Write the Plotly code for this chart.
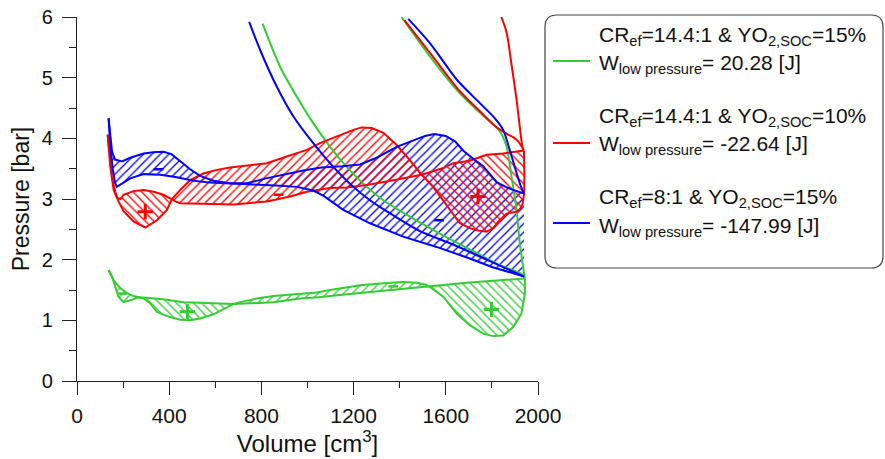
import plotly.graph_objects as go

GREEN = "#33cc33"
RED = "#ff0000"
BLUE = "#0000ff"

# ---------------- data (Volume [cm3], Pressure [bar]) ----------------
# Green: CRef=14.4:1, YO2,SOC=15%
g_comp_v = [805, 881, 953, 1025, 1098, 1170, 1257, 1329, 1444, 1560, 1704, 1834, 1928, 1943]
g_comp_p = [5.89, 5.18, 4.69, 4.25, 3.86, 3.53, 3.20, 2.98, 2.71, 2.46, 2.17, 1.91, 1.77, 1.72]
g_exp_v = [1408, 1531, 1647, 1748, 1834, 1864, 1885, 1907, 1921, 1943]
g_exp_p = [6.00, 5.35, 4.80, 4.42, 4.12, 3.86, 3.37, 2.82, 2.27, 1.69]
g_a_v = [137, 152, 166, 180, 202, 231, 265, 318, 390, 462, 534, 607, 680, 751, 852, 968, 1047,
         1150, 1257, 1400, 1531, 1690, 1943]
g_a_p = [1.83, 1.72, 1.55, 1.39, 1.30, 1.33, 1.38, 1.37, 1.34, 1.30, 1.29, 1.28, 1.27, 1.28, 1.30,
         1.36, 1.38, 1.42, 1.46, 1.51, 1.55, 1.62, 1.69]
g_b_v = [137, 159, 188, 217, 245, 265, 289, 318, 347, 390, 448, 491, 534, 592, 635, 680, 708, 780,
         852, 939, 1040, 1112, 1228, 1329, 1415, 1473, 1510, 1531, 1560, 1589, 1647, 1704, 1762,
         1805, 1849, 1892, 1928, 1943, 1943]
g_b_p = [1.83, 1.66, 1.53, 1.45, 1.40, 1.38, 1.36, 1.28, 1.14, 1.07, 1.01, 1.00, 1.03, 1.10, 1.18,
         1.27, 1.30, 1.36, 1.40, 1.43, 1.46, 1.51, 1.58, 1.61, 1.63, 1.62, 1.59, 1.55, 1.47, 1.39,
         1.11, 0.92, 0.78, 0.74, 0.75, 0.89, 1.11, 1.44, 1.69]
g_cross_v = [137, 265, 680, 1531, 1943]
g_plus_v, g_plus_p = [479, 1798], [1.14, 1.18]
g_minus_v, g_minus_p = [195, 1372], [1.44, 1.56]

# Red: CRef=14.4:1, YO2,SOC=10%
r_comp_v = [1420, 1543, 1660, 1760, 1815, 1849, 1870, 1892, 1914, 1936]
r_comp_p = [5.95, 5.35, 4.78, 4.40, 4.20, 4.11, 4.06, 4.02, 3.95, 3.82]
r_exp_v = [1841, 1864, 1885, 1907, 1921, 1933, 1939]
r_exp_p = [6.00, 5.74, 5.22, 4.64, 4.19, 3.85, 3.80]
r_a_v = [133, 140, 152, 166, 180, 202, 245, 296, 347, 390, 412, 448, 491, 548, 607, 664, 737, 823,
         910, 997, 1054, 1127, 1199, 1235, 1278, 1329, 1387, 1444, 1495, 1545, 1589, 1632, 1661,
         1704, 1740, 1777, 1805, 1834, 1864, 1907, 1921, 1932, 1940, 1941, 1939]
r_a_p = [4.06, 3.75, 3.35, 3.12, 2.96, 2.80, 2.63, 2.53, 2.65, 2.82, 3.00, 3.15, 3.31, 3.42, 3.48,
         3.52, 3.55, 3.59, 3.70, 3.81, 3.92, 4.03, 4.14, 4.18, 4.17, 4.09, 3.89, 3.64, 3.40, 3.20,
         2.98, 2.76, 2.60, 2.52, 2.48, 2.46, 2.52, 2.65, 2.76, 2.79, 2.83, 2.90, 3.09, 3.40, 3.80]
r_b_v = [133, 138, 144, 159, 173, 188, 202, 245, 289, 332, 375, 404, 412, 426, 448, 534, 679, 823,
         925, 997, 1098, 1170, 1257, 1343, 1430, 1495, 1589, 1632, 1704, 1777, 1849, 1939]
r_b_p = [4.06, 3.80, 3.55, 3.15, 3.02, 3.00, 3.07, 3.13, 3.15, 3.12, 3.07, 3.01, 3.00, 2.96, 2.93,
         2.92, 2.91, 2.96, 3.04, 3.12, 3.18, 3.19, 3.23, 3.29, 3.36, 3.40, 3.51, 3.59, 3.63, 3.73,
         3.75, 3.80]
r_cross_v = [133, 412, 1495, 1939]
r_plus_v, r_plus_p = [296, 1740], [2.79, 3.04]
r_minus_v, r_minus_p = [874], [3.07]

# Blue: CRef=8:1, YO2,SOC=15%
b_comp_v = [747, 794, 867, 939, 1025, 1112, 1199, 1271, 1343, 1488, 1632, 1777, 1940]
b_comp_p = [5.92, 5.46, 4.85, 4.36, 3.92, 3.53, 3.20, 2.98, 2.80, 2.47, 2.25, 2.00, 1.72]
b_exp_v = [1437, 1531, 1647, 1748, 1813, 1849, 1878, 1921, 1939]
b_exp_p = [5.97, 5.57, 4.97, 4.58, 4.33, 4.14, 3.80, 3.26, 3.09]
b_a_v = [137, 143, 152, 165, 195, 231, 289, 332, 375, 410, 448, 491, 534, 592, 664, 737, 820, 900,
         982, 1060, 1150, 1228, 1300, 1387, 1459, 1510, 1550, 1600, 1640, 1675, 1720, 1760, 1820,
         1860, 1892, 1939]
b_a_p = [4.33, 4.05, 3.78, 3.65, 3.62, 3.68, 3.75, 3.77, 3.78, 3.74, 3.62, 3.49, 3.38, 3.30, 3.26,
         3.26, 3.34, 3.41, 3.47, 3.52, 3.54, 3.57, 3.68, 3.86, 3.97, 4.04, 4.07, 4.04, 3.95, 3.80,
         3.66, 3.55, 3.28, 3.20, 3.15, 3.09]
b_b_v = [137, 145, 155, 165, 173, 200, 231, 289, 361, 433, 505, 578, 664, 760, 881, 953, 1025, 1070,
         1155, 1271, 1415, 1560, 1704, 1800, 1940]
b_b_p = [4.33, 3.85, 3.50, 3.27, 3.20, 3.26, 3.34, 3.41, 3.40, 3.36, 3.30, 3.27, 3.26, 3.24, 3.22,
         3.20, 3.14, 3.05, 2.82, 2.60, 2.38, 2.21, 2.02, 1.88, 1.72]
b_minus_v, b_minus_p = [354, 1571], [3.49, 2.65]

legend_line1 = [
    "CR<sub>ef</sub>=14.4:1 & YO<sub>2,SOC</sub>=15%",
    "CR<sub>ef</sub>=14.4:1 & YO<sub>2,SOC</sub>=10%",
    "CR<sub>ef</sub>=8:1 & YO<sub>2,SOC</sub>=15%",
]
legend_line2 = [
    "W<sub>low pressure</sub>= 20.28 [J]",
    "W<sub>low pressure</sub>= -22.64 [J]",
    "W<sub>low pressure</sub>= -147.99 [J]",
]

FONT = "Liberation Sans, Arial, sans-serif"
W, H = 885, 459
ML, MR, MT, MB = 77, 347, 17, 78
PW, PH = W - ML - MR, H - MT - MB


def px(x):
    return (x - ML) / PW


def py(y):
    return (H - MB - y) / PH


fig = go.Figure()


def add_region(xs, ys, color, shape):
    fig.add_trace(go.Scatter(
        x=xs, y=ys, mode="lines", fill="toself", line=dict(width=0, color=color),
        fillcolor="rgba(0,0,0,0)",
        fillpattern=dict(shape=shape, fgcolor=color, bgcolor="rgba(255,255,255,0)",
                         size=6, solidity=0.22, fillmode="replace"),
        hoverinfo="skip", showlegend=False))


def split_regions(av, ap, bv, bp, cross, color, shapes):
    for k in range(len(cross) - 1):
        ia0 = av.index(cross[k]); ib0 = bv.index(cross[k])
        ia1 = len(av) - 1 if k == len(cross) - 2 else av.index(cross[k + 1])
        ib1 = len(bv) - 1 if k == len(cross) - 2 else bv.index(cross[k + 1])
        xs = av[ia0:ia1 + 1] + bv[ib0:ib1 + 1][::-1]
        ys = ap[ia0:ia1 + 1] + bp[ib0:ib1 + 1][::-1]
        add_region(xs, ys, color, shapes[k])


# hatched work areas
add_region(b_a_v + b_b_v[::-1], b_a_p + b_b_p[::-1], BLUE, "/")
split_regions(r_a_v, r_a_p, r_b_v, r_b_p, r_cross_v, RED, ["\\", "/", "\\"])
split_regions(g_a_v, g_a_p, g_b_v, g_b_p, g_cross_v, GREEN, ["/", "\\", "/", "\\"])

series = [
    (GREEN, [(g_comp_v, g_comp_p, True), (g_exp_v, g_exp_p, True), (g_a_v, g_a_p, False),
             (g_b_v, g_b_p, False)]),
    (RED, [(r_comp_v, r_comp_p, True), (r_exp_v, r_exp_p, True), (r_a_v, r_a_p, False),
           (r_b_v, r_b_p, False)]),
    (BLUE, [(b_comp_v, b_comp_p, True), (b_exp_v, b_exp_p, True), (b_a_v, b_a_p, False),
            (b_b_v, b_b_p, False)]),
]
for color, curves in series:
    for xs, ys, smooth in curves:
        line = dict(color=color, width=2)
        if smooth:
            line.update(shape="spline", smoothing=0.8)
        fig.add_trace(go.Scatter(x=xs, y=ys, mode="lines", line=line,
                                 showlegend=False, hoverinfo="skip"))

# +/- signs
for xs, ys, color in [(g_plus_v, g_plus_p, GREEN), (r_plus_v, r_plus_p, RED)]:
    fig.add_trace(go.Scatter(x=xs, y=ys, mode="markers", showlegend=False, hoverinfo="skip",
                             marker=dict(symbol="cross-thin", size=11, line=dict(color=color, width=3))))
for xs, ys, color in [(g_minus_v, g_minus_p, GREEN), (r_minus_v, r_minus_p, RED), (b_minus_v, b_minus_p, BLUE)]:
    fig.add_trace(go.Scatter(x=xs, y=ys, mode="markers", showlegend=False, hoverinfo="skip",
                             marker=dict(symbol="line-ew", size=7, line=dict(color=color, width=2.5))))

AX = "#222222"
fig.update_layout(
    width=W, height=H,
    margin=dict(l=ML, r=MR, t=MT, b=MB, pad=0),
    paper_bgcolor="white", plot_bgcolor="white",
    font=dict(family=FONT, color="#111111"),
    showlegend=False,
    xaxis=dict(range=[0, 2000], tick0=0, dtick=400, ticks="outside", ticklen=13, tickwidth=1.3,
               tickcolor=AX, showline=True, linecolor=AX, linewidth=1.3, showgrid=False,
               zeroline=False, tickfont=dict(size=21), automargin=False, ticklabelstandoff=3,
               minor=dict(dtick=200, ticks="outside", ticklen=6, tickwidth=1.3, tickcolor=AX,
                          showgrid=False),
               title=dict(text="Volume [cm<sup>3</sup>]", font=dict(size=24), standoff=2)),
    yaxis=dict(range=[0, 6], tick0=0, dtick=1, ticks="outside", ticklen=14, tickwidth=1.3,
               tickcolor=AX, showline=True, linecolor=AX, linewidth=1.3, showgrid=False,
               zeroline=False, tickfont=dict(size=20), automargin=False, ticklabelstandoff=5,
               minor=dict(dtick=0.5, ticks="outside", ticklen=7, tickwidth=1.3, tickcolor=AX,
                          showgrid=False),
               title=dict(text="Pressure [bar]", font=dict(size=23), standoff=5)),
)

# legend box (rounded frame, sample lines and texts)
x0, x1 = px(545), px(883)
y1, y0 = py(15), py(268)
rx, ry = 12 / PW, 12 / PH
path = (f"M{x0+rx},{y1} L{x1-rx},{y1} Q{x1},{y1} {x1},{y1-ry} L{x1},{y0+ry} Q{x1},{y0} {x1-rx},{y0} "
        f"L{x0+rx},{y0} Q{x0},{y0} {x0},{y0+ry} L{x0},{y1-ry} Q{x0},{y1} {x0+rx},{y1} Z")
fig.add_shape(type="path", path=path, xref="paper", yref="paper",
              line=dict(color="#444444", width=1.2), fillcolor="rgba(0,0,0,0)", layer="below")

entry_colors = [GREEN, RED, BLUE]
sample_y = [61, 143, 223]
line1_y = [36, 117, 198]
line2_y = [64, 145, 227]
for i, c in enumerate(entry_colors):
    fig.add_shape(type="line", xref="paper", yref="paper", x0=px(553), x1=px(590),
                  y0=py(sample_y[i]), y1=py(sample_y[i]), line=dict(color=c, width=2))
    fig.add_annotation(xref="paper", yref="paper", x=px(597), y=py(line1_y[i]), xanchor="left",
                       yanchor="middle", text=legend_line1[i], showarrow=False,
                       font=dict(size=21, family=FONT, color="#111111"))
    fig.add_annotation(xref="paper", yref="paper", x=px(597), y=py(line2_y[i]), xanchor="left",
                       yanchor="middle", text=legend_line2[i], showarrow=False,
                       font=dict(size=21, family=FONT, color="#111111"))

fig.write_html("out.html", config={"displayModeBar": False},
               post_script="document.body.style.margin='0px';document.body.style.overflow='hidden';")
